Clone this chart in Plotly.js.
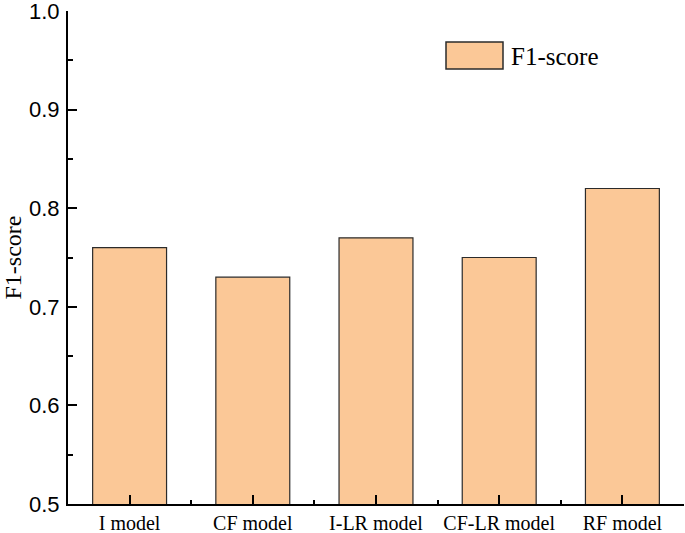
<!DOCTYPE html>
<html><head><meta charset="utf-8">
<script src="https://cdn.plot.ly/plotly-3.0.1.min.js"></script>
<style>html,body{margin:0;padding:0;background:#fff}#chart{width:685px;height:533px}</style>
</head><body><div id="chart"></div>
<script>
const categories = ["I model", "CF model", "I-LR model", "CF-LR model", "RF model"];
const f1Scores = [0.76, 0.73, 0.77, 0.75, 0.82];
const seriesName = "F1-score";
const yTickVals = [0.5, 0.6, 0.7, 0.8, 0.9, 1.0];
const yTickText = ["0.5", "0.6", "0.7", "0.8", "0.9", "1.0"];

const barColor = "#FBC897";
const trace = {
  type: "bar", x: categories, y: f1Scores, name: seriesName,
  marker: {color: barColor, line: {color: "#2b2b2b", width: 1.2}},
  width: 0.6, showlegend: false, hoverinfo: "x+y"
};
const boundaryTrace = {
  type: "bar", x: categories, y: f1Scores.map(() => null), xaxis: "x2", yaxis: "y",
  showlegend: false, hoverinfo: "skip"
};
const layout = {
  width: 685, height: 533,
  margin: {l: 68, r: 1, t: 11, b: 29},
  paper_bgcolor: "#fff", plot_bgcolor: "#fff",
  showlegend: false,
  xaxis: {
    type: "category", categoryarray: categories, range: [-0.5, 4.5],
    showline: true, linecolor: "#000", linewidth: 2, mirror: false,
    ticks: "inside", ticklen: 9, tickwidth: 2, tickcolor: "#000",
    showgrid: false, zeroline: false, ticklabeloverflow: "allow",
    ticklabelstandoff: 0,
    tickfont: {family: "Liberation Serif, Times New Roman, serif", size: 20, color: "#000"}
  },
  xaxis2: {
    type: "category", categoryarray: categories, range: [-0.5, 4.5],
    overlaying: "x", anchor: "y", side: "bottom", tickson: "boundaries",
    ticks: "inside", ticklen: 4, tickwidth: 2, tickcolor: "#000",
    showticklabels: false, showgrid: false, showline: false, zeroline: false
  },
  yaxis: {
    range: [0.5, 1.0], tickvals: yTickVals, ticktext: yTickText,
    showline: true, linecolor: "#000", linewidth: 2,
    ticks: "inside", ticklen: 9, tickwidth: 2, tickcolor: "#000",
    minor: {ticks: "inside", ticklen: 5, tickwidth: 2, tickcolor: "#000", dtick: 0.05, showgrid: false},
    showgrid: false, zeroline: false, ticklabeloverflow: "allow",
    tickfont: {family: "Liberation Sans, Arial, sans-serif", size: 22, color: "#000"},
    ticklabelstandoff: 2,
    title: {text: "F1-score", standoff: 4, font: {family: "Liberation Serif, Times New Roman, serif", size: 24, color: "#000"}}
  },
  shapes: [{
    type: "rect", xref: "paper", yref: "paper",
    x0: (446 - 68) / 616, x1: (503 - 68) / 616, y0: (504 - 69) / 493, y1: (504 - 42) / 493,
    fillcolor: barColor, line: {color: "#2b2b2b", width: 1.5}
  }],
  annotations: [{
    xref: "paper", yref: "paper", x: (509 - 68) / 616, y: (504 - 56) / 493,
    xanchor: "left", yanchor: "middle", showarrow: false, text: seriesName,
    font: {family: "Liberation Serif, Times New Roman, serif", size: 25, color: "#000"}
  }]
};
Plotly.newPlot("chart", [trace, boundaryTrace], layout, {displayModeBar: false, staticPlot: true});
</script></body></html>
